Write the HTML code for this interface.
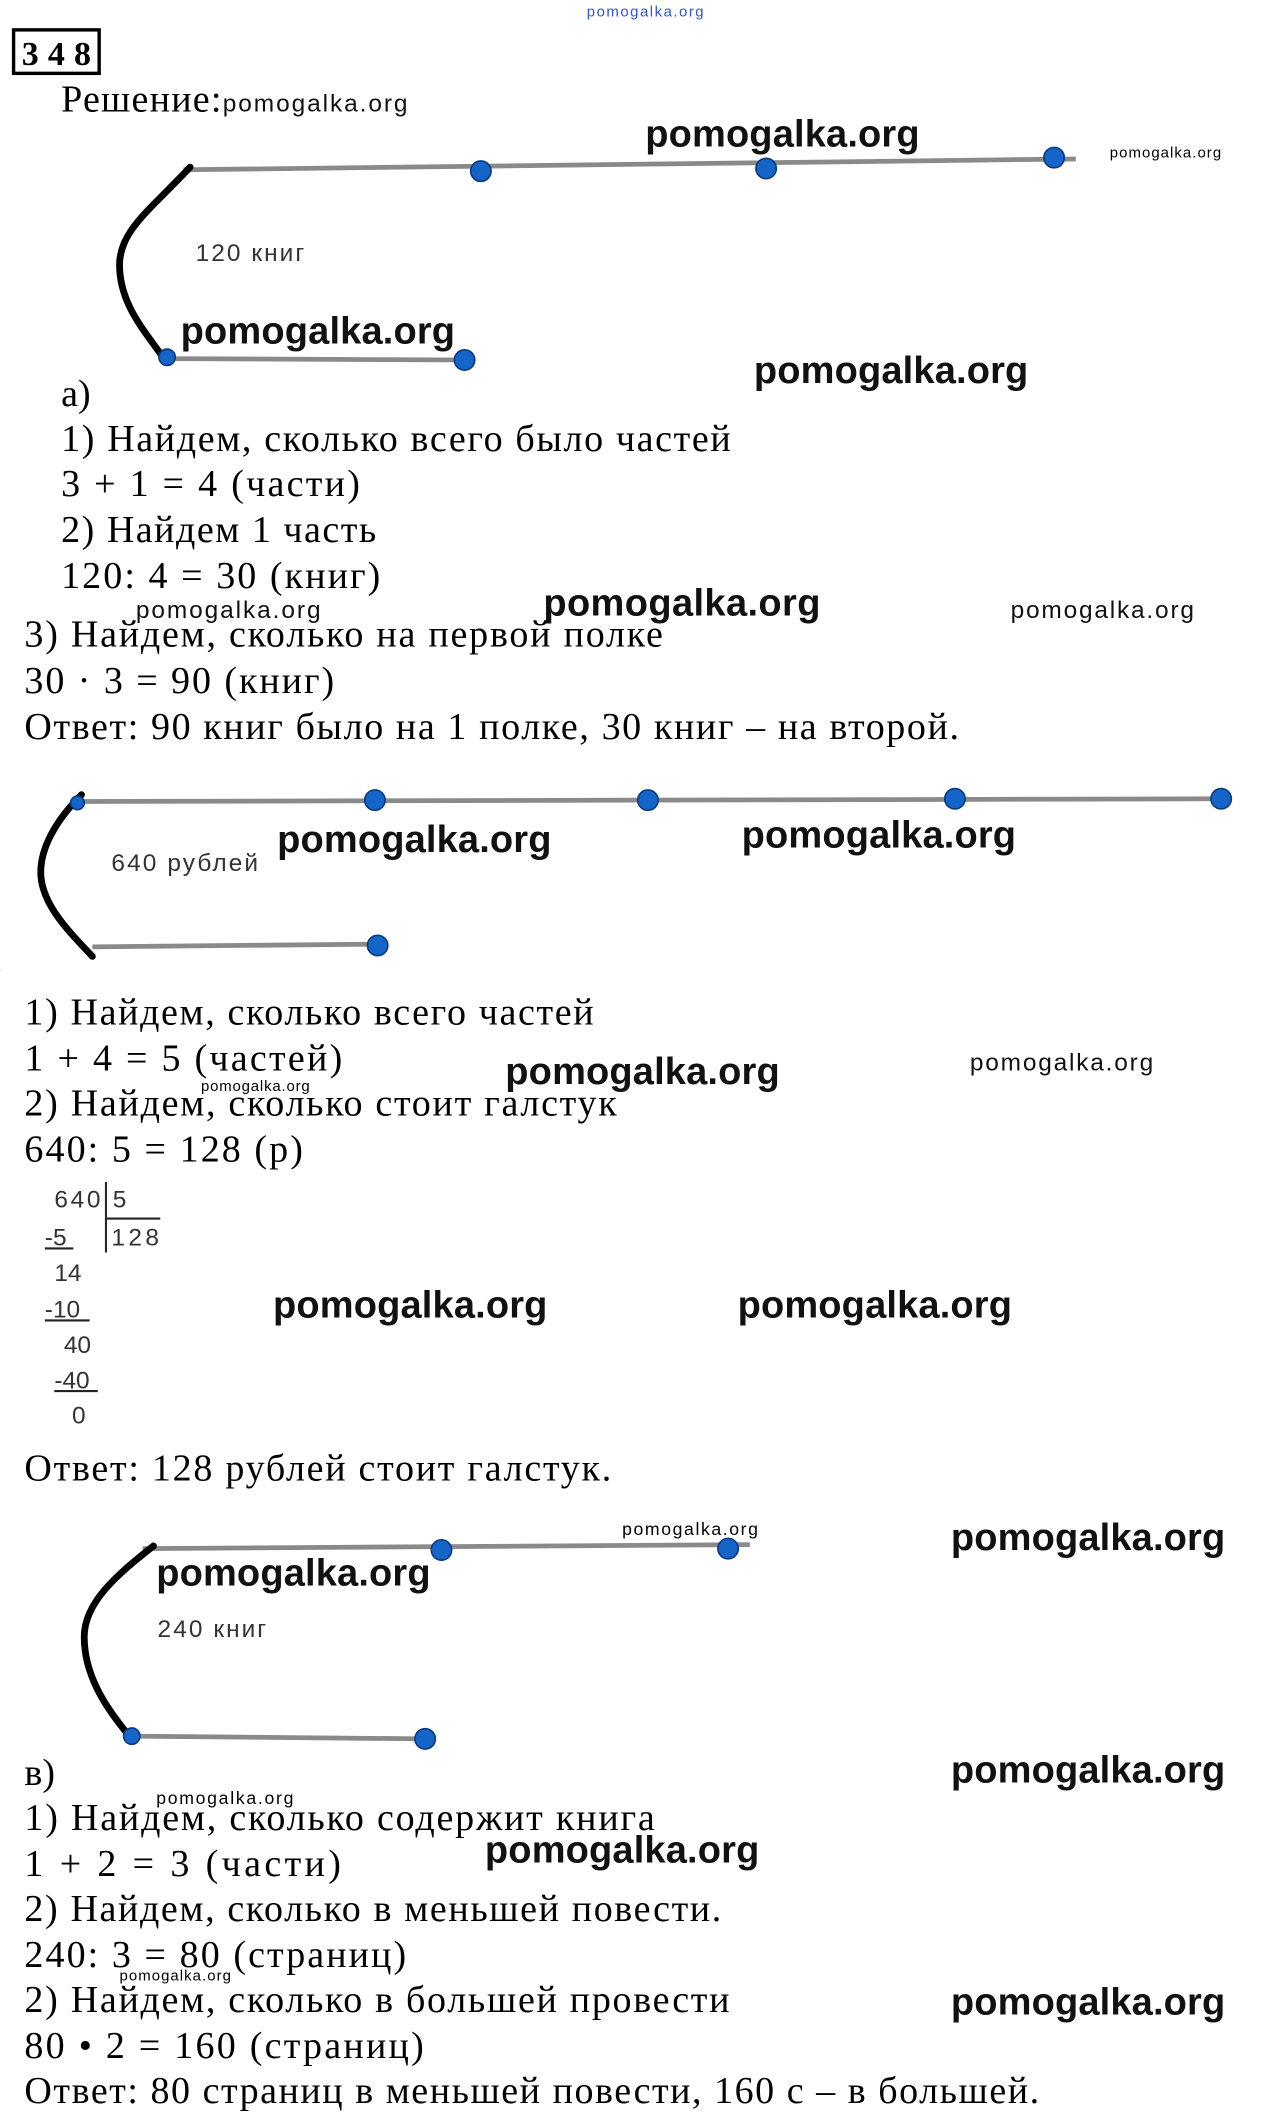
<!DOCTYPE html>
<html><head><meta charset="utf-8"><style>
html,body{margin:0;padding:0;background:#fff;width:1285px;height:2126px;overflow:hidden}
svg{display:block}
.t{font-family:"Liberation Serif","DejaVu Serif",serif;font-size:28px;fill:#000}
.w{font-family:"Liberation Sans",sans-serif;font-weight:bold;font-size:28px;fill:#111}
.ws{font-family:"Liberation Sans",sans-serif;font-size:18px;fill:#111}
.d{font-family:"Liberation Sans",sans-serif;font-size:18px;fill:#333}
.ln{stroke:#8a8a8a;stroke-width:3.5;fill:none}
.dot{fill:#1565c8;stroke:#0a3a80;stroke-width:1.2}
.cv{stroke:#000;stroke-width:5;fill:none;stroke-linecap:round}
</style></head><body>
<svg width="1285" height="2126" viewBox="0 0 946 1565" preserveAspectRatio="none">
<text x="432" y="12" style="font-family:'Liberation Sans',sans-serif;font-size:11px;fill:#3355cc" textLength="86">pomogalka.org</text>
<rect x="10" y="22" width="63" height="32" fill="none" stroke="#000" stroke-width="2.5"/>
<text x="16" y="48" style="font-family:'Liberation Serif',serif;font-weight:bold;font-size:25px" textLength="51">348</text>
<text class="t" x="45" y="82" textLength="118">Решение:</text>
<text class="ws" x="164" y="82" textLength="136">pomogalka.org</text>

<!-- diagram a -->
<line class="ln" x1="135" y1="125" x2="792" y2="117"/>
<line class="ln" x1="122" y1="264" x2="342" y2="265"/>
<path class="cv" d="M140 123 C110 155 88 170 88 195 C88 225 108 245 122 266"/>
<circle class="dot" cx="354" cy="126" r="7.5"/><circle class="dot" cx="564" cy="124" r="7.5"/><circle class="dot" cx="776" cy="116" r="7.5"/>
<circle class="dot" cx="342" cy="265" r="7.5"/><circle class="dot" cx="123" cy="263" r="6"/>
<text class="d" x="144" y="192" textLength="80">120 книг</text>
<text class="w" x="475" y="108" textLength="202">pomogalka.org</text>
<text style="font-family:'Liberation Sans',sans-serif;font-size:11px" x="817" y="116" textLength="82">pomogalka.org</text>
<text class="w" x="133" y="253" textLength="202">pomogalka.org</text>
<text class="w" x="555" y="282" textLength="202">pomogalka.org</text>

<text class="t" x="45" y="299">а)</text>
<text class="t" x="45" y="332" textLength="493">1) Найдем, сколько всего было частей</text>
<text class="t" x="45" y="365" textLength="220">3 + 1 = 4 (части)</text>
<text class="t" x="45" y="399" textLength="232">2) Найдем 1 часть</text>
<text class="t" x="45" y="433" textLength="235">120: 4 = 30 (книг)</text>
<text class="ws" x="100" y="455" textLength="136">pomogalka.org</text>
<text class="w" x="400" y="453" textLength="204">pomogalka.org</text>
<text class="ws" x="744" y="455" textLength="135">pomogalka.org</text>
<text class="t" x="18" y="476" textLength="470">3) Найдем, сколько на первой полке</text>
<text class="t" x="18" y="510" textLength="228">30 · 3 = 90 (книг)</text>
<text class="t" x="18" y="544" textLength="688">Ответ: 90 книг было на 1 полке, 30 книг –  на второй.</text>

<!-- diagram b -->
<line class="ln" x1="55" y1="590" x2="905" y2="588"/>
<line class="ln" x1="68" y1="697" x2="278" y2="695"/>
<path class="cv" d="M60 585 C40 605 30 625 30 642 C30 665 50 685 68 704"/>
<circle class="dot" cx="57" cy="591" r="5"/>
<circle class="dot" cx="276" cy="589" r="7.5"/><circle class="dot" cx="477" cy="589" r="7.5"/><circle class="dot" cx="703" cy="588" r="7.5"/><circle class="dot" cx="899" cy="588" r="7.5"/>
<circle class="dot" cx="278" cy="696" r="7.5"/>
<text class="d" x="82" y="641" textLength="108">640 рублей</text>
<text class="w" x="204" y="627" textLength="202">pomogalka.org</text>
<text class="w" x="546" y="624" textLength="202">pomogalka.org</text>
<text class="t" x="-8" y="721">)</text>

<text class="t" x="18" y="754" textLength="419">1) Найдем, сколько всего частей</text>
<text class="t" x="18" y="788" textLength="234">1 + 4 = 5 (частей)</text>
<text class="t" x="18" y="821" textLength="436">2) Найдем, сколько стоит галстук</text>
<text class="t" x="18" y="855" textLength="205">640: 5 = 128 (р)</text>
<text class="w" x="372" y="798" textLength="202">pomogalka.org</text>
<text class="ws" x="714" y="788" textLength="135">pomogalka.org</text>
<text style="font-family:'Liberation Sans',sans-serif;font-size:11px" x="148" y="803" textLength="80">pomogalka.org</text>

<!-- long division -->
<g class="d">
<text x="40" y="889" textLength="34">640</text>
<text x="83" y="889">5</text>
<text x="33" y="917">-5</text>
<text x="82" y="917" textLength="35">128</text>
<text x="40" y="943">14</text>
<text x="33" y="970">-10</text>
<text x="47" y="996">40</text>
<text x="40" y="1022">-40</text>
<text x="53" y="1048">0</text>
</g>
<line x1="78" y1="870" x2="78" y2="922" stroke="#222" stroke-width="1.5"/>
<line x1="78" y1="897" x2="118" y2="897" stroke="#222" stroke-width="1.5"/>
<line x1="33" y1="919" x2="54" y2="919" stroke="#222" stroke-width="1.5"/>
<line x1="33" y1="972" x2="66" y2="972" stroke="#222" stroke-width="1.5"/>
<line x1="40" y1="1024" x2="72" y2="1024" stroke="#222" stroke-width="1.5"/>
<text class="w" x="201" y="970" textLength="202">pomogalka.org</text>
<text class="w" x="543" y="970" textLength="202">pomogalka.org</text>
<text class="t" x="18" y="1090" textLength="432">Ответ: 128 рублей стоит галстук.</text>

<!-- diagram c -->
<line class="ln" x1="105" y1="1140" x2="552" y2="1137"/>
<line class="ln" x1="95" y1="1278" x2="313" y2="1280"/>
<path class="cv" d="M113 1138 C85 1160 62 1180 62 1205 C62 1235 80 1260 97 1280"/>
<circle class="dot" cx="325" cy="1141" r="7.5"/><circle class="dot" cx="536" cy="1140" r="7.5"/>
<circle class="dot" cx="313" cy="1280" r="7.5"/><circle class="dot" cx="97" cy="1278" r="6"/>
<text class="d" x="116" y="1205" textLength="80">240 книг</text>
<text style="font-family:'Liberation Sans',sans-serif;font-size:13px" x="458" y="1130" textLength="100">pomogalka.org</text>
<text class="w" x="700" y="1141" textLength="202">pomogalka.org</text>
<text class="w" x="115" y="1167" textLength="202">pomogalka.org</text>
<text class="w" x="700" y="1312" textLength="202">pomogalka.org</text>
<text style="font-family:'Liberation Sans',sans-serif;font-size:13px" x="115" y="1328" textLength="101">pomogalka.org</text>
<text class="w" x="357" y="1371" textLength="202">pomogalka.org</text>
<text style="font-family:'Liberation Sans',sans-serif;font-size:11px" x="88" y="1458" textLength="82">pomogalka.org</text>
<text class="w" x="700" y="1483" textLength="202">pomogalka.org</text>

<text class="t" x="18" y="1314">в)</text>
<text class="t" x="18" y="1347" textLength="464">1) Найдем, сколько содержит книга</text>
<text class="t" x="18" y="1381" textLength="233">1 + 2  =  3 (части)</text>
<text class="t" x="18" y="1414" textLength="513">2) Найдем, сколько в меньшей повести.</text>
<text class="t" x="18" y="1448" textLength="281">240: 3 = 80 (страниц)</text>
<text class="t" x="18" y="1481" textLength="519">2) Найдем, сколько в большей провести</text>
<text class="t" x="18" y="1515" textLength="294">80 • 2 = 160 (страниц)</text>
<text class="t" x="18" y="1548" textLength="747">Ответ: 80 страниц в меньшей повести, 160 с –  в большей.</text>
</svg>
</body></html>
